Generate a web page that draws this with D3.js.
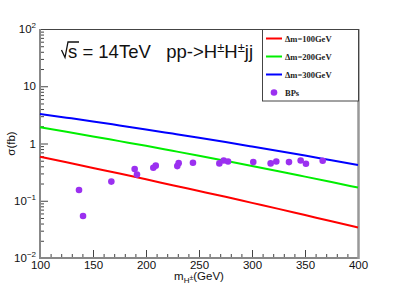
<!DOCTYPE html>
<html>
<head>
<meta charset="utf-8">
<script src="https://cdn.jsdelivr.net/npm/d3@7"></script>
<style>
  body { margin: 0; background: #fff; }
</style>
</head>
<body>
<script>
//chart data
var massPoints = [100, 125, 150, 175, 200, 225, 250, 275, 300, 325, 350, 375, 400];
var sigma100 = [0.586, 0.469, 0.374, 0.299, 0.237, 0.187, 0.148, 0.117, 0.0918, 0.0721, 0.0562, 0.0439, 0.0341];
var sigma200 = [1.92, 1.60, 1.33, 1.10, 0.91, 0.746, 0.611, 0.498, 0.405, 0.328, 0.264, 0.212, 0.17];
var sigma300 = [3.29, 2.83, 2.43, 2.07, 1.76, 1.49, 1.26, 1.06, 0.887, 0.74, 0.615, 0.508, 0.42];
var bpMass = [136.8, 140.6, 167.3, 189.3, 191.5, 206.9, 209.2, 229.5, 230.8, 244.3, 269.2, 273.3, 277.4, 301.2, 317.6, 322.9, 334.9, 345.9, 350.9, 366.7];
var bpSigma = [0.154, 0.054, 0.216, 0.357, 0.286, 0.378, 0.41, 0.403, 0.454, 0.462, 0.449, 0.506, 0.486, 0.473, 0.449, 0.486, 0.473, 0.506, 0.444, 0.5];
var seriesNames = ["\u0394m=100GeV", "\u0394m=200GeV", "\u0394m=300GeV"];
var seriesColors = ["#ff0000", "#00ee00", "#0000ff"];
var xMajor = [100, 150, 200, 250, 300, 350, 400];
var yMajorExp = [-2, -1, 0, 1, 2];

var w = 399, h = 288;
var pLeft = 40, pRight = 358, pTop = 29, pBottom = 258;
var sans = "Liberation Sans, Arial, sans-serif";
var serif = "Liberation Serif, Times New Roman, serif";

var svg = d3.select("body").append("svg")
  .attr("width", w)
  .attr("height", h)
  .attr("font-family", sans)
  .style("background-color", "#fff");

var x = d3.scaleLinear().domain([100, 400]).range([pLeft, pRight]);
var y = d3.scaleLog().domain([0.01, 100]).range([pBottom, pTop]);

//x axis: major + minor ticks pointing into the frame
var xMinor = d3.range(100, 401, 10).filter(function(d){ return d % 50 !== 0; });
svg.append("g").attr("transform", "translate(0," + pBottom + ")")
  .call(d3.axisBottom(x).tickValues(xMinor).tickSize(-4).tickFormat(""))
  .call(function(g){ g.select(".domain").remove(); g.selectAll("line").attr("stroke", "#444"); });
svg.append("g").attr("transform", "translate(0," + pBottom + ")")
  .call(d3.axisBottom(x).tickValues(xMajor).tickSize(-8).tickPadding(3))
  .call(function(g){
    g.select(".domain").remove();
    g.selectAll("line").attr("stroke", "#444");
    g.selectAll("text").attr("font-size", 11.5).attr("font-family", sans).attr("fill", "#111");
  });

//y axis: log ticks
var yMinor = [];
[-2, -1, 0, 1].forEach(function(e){
  for (var k = 2; k <= 9; k++) yMinor.push(k * Math.pow(10, e));
});
svg.append("g").attr("transform", "translate(" + pLeft + ",0)")
  .call(d3.axisLeft(y).tickValues(yMinor).tickSize(-4).tickFormat(""))
  .call(function(g){ g.select(".domain").remove(); g.selectAll("line").attr("stroke", "#444"); });
svg.append("g").attr("transform", "translate(" + pLeft + ",0)")
  .call(d3.axisLeft(y).tickValues(yMajorExp.map(function(e){ return Math.pow(10, e); })).tickSize(-8).tickPadding(4))
  .call(function(g){
    g.select(".domain").remove();
    g.selectAll("line").attr("stroke", "#444");
    g.selectAll("text").each(function(d){
      var t = d3.select(this).text(null)
        .attr("font-size", 11.5).attr("font-family", sans).attr("fill", "#111");
      var e = Math.round(Math.log10(d));
      if (e === 0) { t.append("tspan").text("1"); return; }
      if (e === 1) { t.append("tspan").text("10"); return; }
      t.append("tspan").text("10");
      t.append("tspan").attr("dy", -5).attr("font-size", 8).text(e < 0 ? "\u2212" + (-e) : e);
    });
  });

//frame
svg.append("line").attr("x1", pLeft).attr("x2", pRight).attr("y1", pTop + 0.5).attr("y2", pTop + 0.5)
  .attr("stroke", "#444").attr("stroke-width", 1);
svg.append("line").attr("x1", pLeft).attr("x2", pLeft).attr("y1", pTop).attr("y2", pBottom + 1)
  .attr("stroke", "#888").attr("stroke-width", 2);
svg.append("line").attr("x1", pLeft).attr("x2", pRight + 1).attr("y1", pBottom).attr("y2", pBottom)
  .attr("stroke", "#888").attr("stroke-width", 2);
svg.append("line").attr("x1", pRight + 0.5).attr("x2", pRight + 0.5).attr("y1", pTop).attr("y2", pBottom + 1)
  .attr("stroke", "#999").attr("stroke-width", 2.5);

//curves
var line = d3.line()
  .x(function(d){ return x(d[0]); })
  .y(function(d){ return y(d[1]); })
  .curve(d3.curveMonotoneX);
[sigma100, sigma200, sigma300].forEach(function(s, i){
  svg.append("path")
    .datum(massPoints.map(function(m, j){ return [m, s[j]]; }))
    .attr("d", line)
    .attr("fill", "none")
    .attr("stroke", seriesColors[i])
    .attr("stroke-width", 2);
});

//benchmark points
svg.selectAll(".bp")
  .data(bpMass.map(function(m, i){ return [m, bpSigma[i]]; }))
  .enter().append("circle")
  .attr("class", "bp")
  .attr("cx", function(d){ return x(d[0]); })
  .attr("cy", function(d){ return y(d[1]); })
  .attr("r", 3.3)
  .attr("fill", "#9b30f0");

//title
svg.append("path")
  .attr("d", "M61.5,50 L65,57.5 L68,42 L79,42")
  .attr("fill", "none").attr("stroke", "#111").attr("stroke-width", 1.3);
var title = svg.append("text")
  .attr("x", 68).attr("y", 58)
  .attr("font-size", 18.5).attr("fill", "#111")
  .style("white-space", "pre");
title.append("tspan").text("s = 14TeV   pp->H");
title.append("tspan").attr("dy", -6).attr("dx", 0).attr("font-size", 13).text("\u00b1");
title.append("tspan").attr("dy", 6).attr("dx", 0).text("H");
title.append("tspan").attr("dy", -6).attr("dx", 0).attr("font-size", 13).text("\u00b1");
title.append("tspan").attr("dy", 6).attr("dx", 0).text("jj");

//axis titles
var xt = svg.append("text")
  .attr("x", (pLeft + pRight) / 2).attr("y", 280)
  .attr("text-anchor", "middle").attr("font-size", 11.5).attr("fill", "#111");
xt.append("tspan").text("m");
xt.append("tspan").attr("dy", 3).attr("font-size", 8).text("H");
xt.append("tspan").attr("dy", -3).attr("dx", 0).attr("font-size", 7).text("\u00b1");
xt.append("tspan").attr("dy", 0).attr("font-size", 11.5).text("(GeV)");

svg.append("text")
  .attr("transform", "translate(15," + ((pTop + pBottom) / 2) + ") rotate(-90)")
  .attr("text-anchor", "middle").attr("font-size", 11.5).attr("fill", "#111")
  .text("\u03c3(fb)");

//legend
var lg = svg.append("g");
lg.append("rect")
  .attr("x", 262.5).attr("y", 29.5).attr("width", 96).attr("height", 71.5)
  .attr("fill", "#fff").attr("stroke", "#444").attr("stroke-width", 1);
var rowY = [38.5, 56.5, 74.5, 92.5];
seriesNames.forEach(function(n, i){
  lg.append("line")
    .attr("x1", 266).attr("x2", 282).attr("y1", rowY[i]).attr("y2", rowY[i])
    .attr("stroke", seriesColors[i]).attr("stroke-width", 2);
  lg.append("text")
    .attr("x", 285).attr("y", rowY[i] + 3)
    .attr("font-family", serif)
    .attr("font-weight", "bold").attr("font-size", 8.5).attr("fill", "#222")
    .text(n);
});
lg.append("circle").attr("cx", 274).attr("cy", rowY[3]).attr("r", 3.3).attr("fill", "#9b30f0");
lg.append("text")
  .attr("x", 285).attr("y", rowY[3] + 3)
  .attr("font-family", serif)
  .attr("font-weight", "bold").attr("font-size", 8.5).attr("fill", "#222")
  .text("BPs");
</script>
</body>
</html>
